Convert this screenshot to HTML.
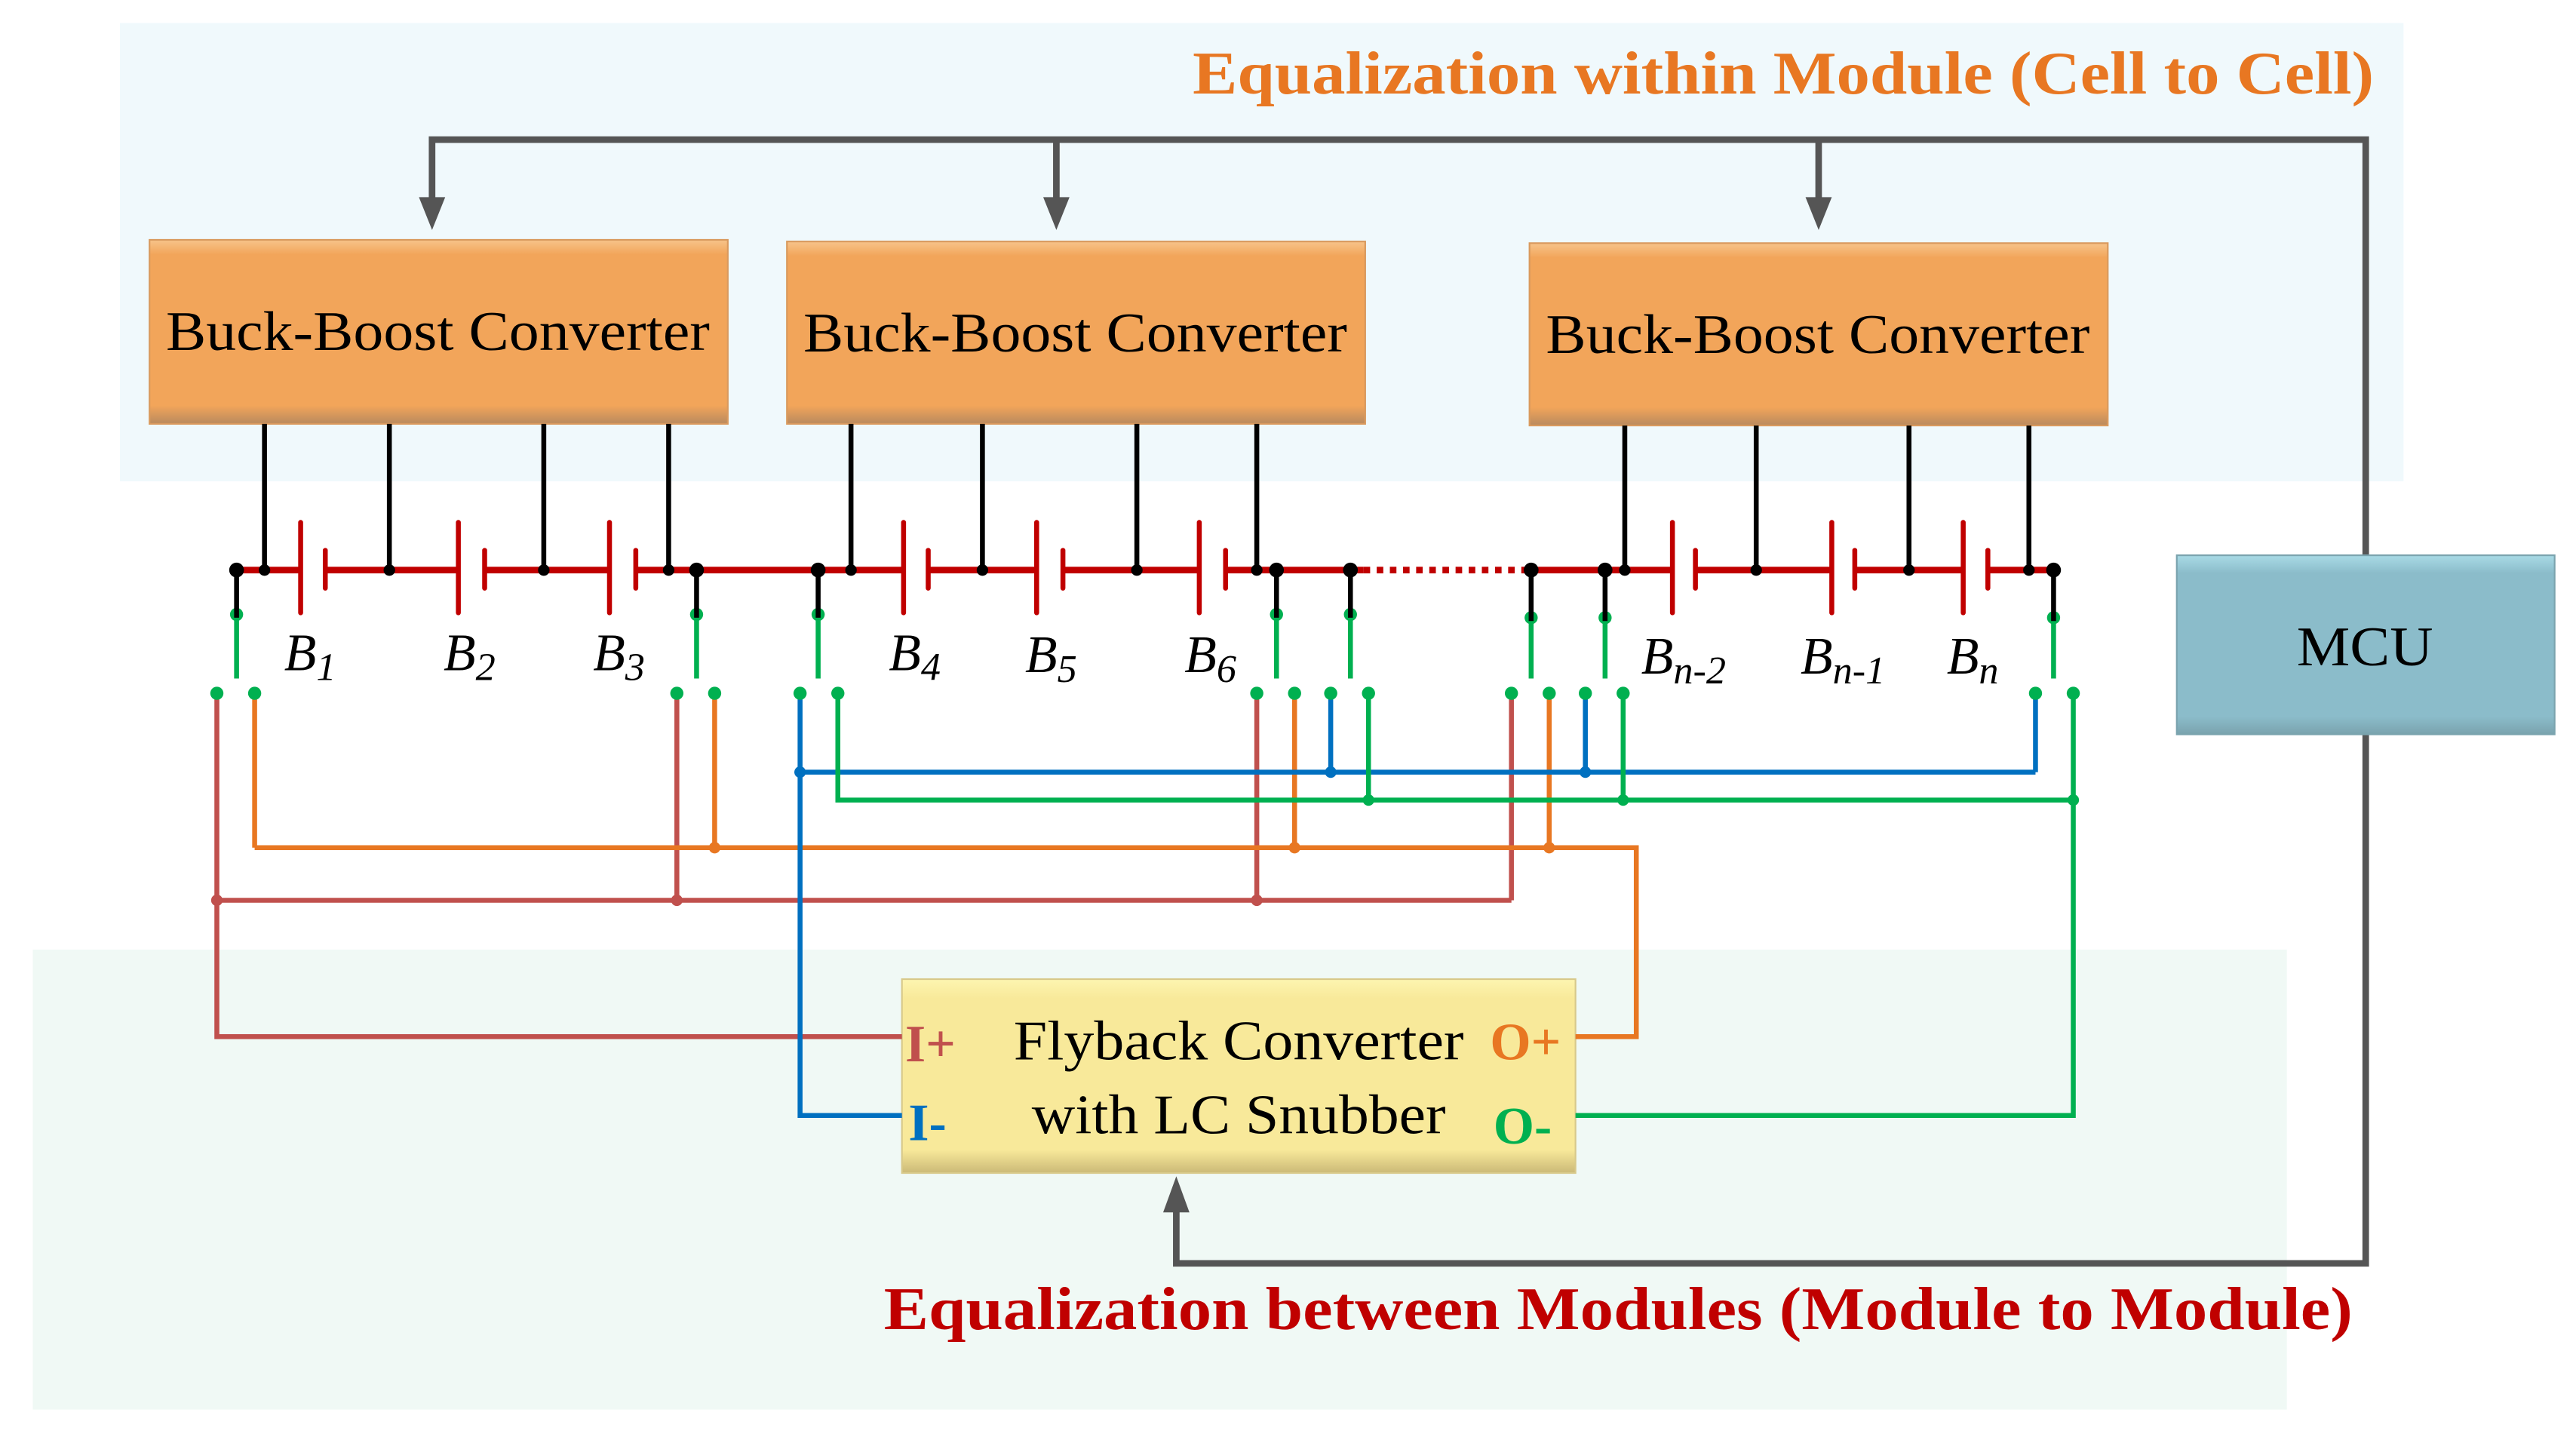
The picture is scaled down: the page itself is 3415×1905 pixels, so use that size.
<!DOCTYPE html>
<html><head><meta charset="utf-8"><style>
html,body{margin:0;padding:0;background:#fff;}
svg{display:block;}
text{font-family:"Liberation Serif",serif;}
</style></head><body>
<svg width="3415" height="1905" viewBox="0 0 1568 874.7" preserveAspectRatio="none" xmlns="http://www.w3.org/2000/svg">
<defs>
<linearGradient id="og" x1="0" y1="0" x2="0" y2="1"><stop offset="0" stop-color="#f7c48a"/><stop offset="0.08" stop-color="#f2a55a"/><stop offset="0.9" stop-color="#f2a55a"/><stop offset="1" stop-color="#b98a5e"/></linearGradient>
<linearGradient id="bg" x1="0" y1="0" x2="0" y2="1"><stop offset="0" stop-color="#a9dbe6"/><stop offset="0.1" stop-color="#8bbcca"/><stop offset="0.9" stop-color="#8bbcca"/><stop offset="1" stop-color="#7aa3ae"/></linearGradient>
<linearGradient id="yg" x1="0" y1="0" x2="0" y2="1"><stop offset="0" stop-color="#fdf5b0"/><stop offset="0.1" stop-color="#f8e99a"/><stop offset="0.88" stop-color="#f8e99a"/><stop offset="1" stop-color="#cbb977"/></linearGradient>
</defs>
<rect x="73" y="14" width="1390" height="279" fill="#f0f9fc"/>
<rect x="20" y="578" width="1372" height="280" fill="#f0f9f5"/>
<text x="726" y="57" textLength="719" lengthAdjust="spacingAndGlyphs" font-size="37" font-weight="bold" fill="#e87722">Equalization within Module (Cell to Cell)</text>
<text x="538" y="809" textLength="894" lengthAdjust="spacingAndGlyphs" font-size="37" font-weight="bold" fill="#c00000">Equalization between Modules (Module to Module)</text>

<g stroke="#555" stroke-width="4" fill="none">
<polyline points="1440,338 1440,85 263,85 263,125"/>
<line x1="643" y1="85" x2="643" y2="125"/>
<line x1="1107" y1="85" x2="1107" y2="125"/>
<polyline points="1440,447 1440,769 716,769 716,735"/>
</g>
<g fill="#555">
<polygon points="255,120 271,120 263,140"/>
<polygon points="635,120 651,120 643,140"/>
<polygon points="1099,120 1115,120 1107,140"/>
<polygon points="708,738 724,738 716,716"/>
</g>

<rect x="91" y="146" width="352" height="112" fill="url(#og)" stroke="#d99a5e" stroke-width="1"/>
<rect x="479" y="147" width="352" height="111" fill="url(#og)" stroke="#d99a5e" stroke-width="1"/>
<rect x="931" y="148" width="352" height="111" fill="url(#og)" stroke="#d99a5e" stroke-width="1"/>
<text x="101" y="213" textLength="331" lengthAdjust="spacingAndGlyphs" font-size="34">Buck-Boost Converter</text>
<text x="489" y="214" textLength="331" lengthAdjust="spacingAndGlyphs" font-size="34">Buck-Boost Converter</text>
<text x="941" y="215" textLength="331" lengthAdjust="spacingAndGlyphs" font-size="34">Buck-Boost Converter</text>
<rect x="1325" y="338" width="230" height="109" fill="url(#bg)" stroke="#7aa3ae" stroke-width="1"/>
<text x="1398" y="405" textLength="83" lengthAdjust="spacingAndGlyphs" font-size="34">MCU</text>
<rect x="549" y="596" width="410" height="118" fill="url(#yg)" stroke="#d8c98a" stroke-width="1"/>
<text x="617" y="645" textLength="274" lengthAdjust="spacingAndGlyphs" font-size="34">Flyback Converter</text>
<text x="628" y="690" textLength="252" lengthAdjust="spacingAndGlyphs" font-size="34">with LC Snubber</text>
<text x="551" y="646" font-size="32" font-weight="bold" fill="#c0504d">I+</text>
<text x="553" y="694" font-size="32" font-weight="bold" fill="#0070c0">I-</text>
<text x="907" y="645" font-size="32" font-weight="bold" fill="#e87722">O+</text>
<text x="909" y="696" font-size="32" font-weight="bold" fill="#00b050">O-</text>

<g stroke="#000" stroke-width="3">
<line x1="161" y1="258" x2="161" y2="347"/><line x1="237" y1="258" x2="237" y2="347"/>
<line x1="331" y1="258" x2="331" y2="347"/><line x1="407" y1="258" x2="407" y2="347"/>
<line x1="518" y1="258" x2="518" y2="347"/><line x1="598" y1="258" x2="598" y2="347"/>
<line x1="692" y1="258" x2="692" y2="347"/><line x1="765" y1="258" x2="765" y2="347"/>
<line x1="989" y1="259" x2="989" y2="347"/><line x1="1069" y1="259" x2="1069" y2="347"/>
<line x1="1162" y1="259" x2="1162" y2="347"/><line x1="1235" y1="259" x2="1235" y2="347"/>
</g>

<g stroke="#c00000" stroke-width="4" fill="none">
<line x1="144" y1="347" x2="183" y2="347"/><line x1="198" y1="347" x2="279" y2="347"/>
<line x1="295" y1="347" x2="371" y2="347"/><line x1="387" y1="347" x2="550" y2="347"/>
<line x1="565" y1="347" x2="631" y2="347"/><line x1="647" y1="347" x2="730" y2="347"/>
<line x1="746" y1="347" x2="830" y2="347"/>
<line x1="830" y1="347" x2="932" y2="347" stroke-dasharray="4,4"/>
<line x1="932" y1="347" x2="1018" y2="347"/><line x1="1032" y1="347" x2="1115" y2="347"/>
<line x1="1129" y1="347" x2="1195" y2="347"/><line x1="1210" y1="347" x2="1250" y2="347"/>
</g>
<g stroke="#c00000" stroke-width="3" stroke-linecap="round">
<line x1="183" y1="318" x2="183" y2="373"/><line x1="198" y1="335" x2="198" y2="358"/>
<line x1="279" y1="318" x2="279" y2="373"/><line x1="295" y1="335" x2="295" y2="358"/>
<line x1="371" y1="318" x2="371" y2="373"/><line x1="387" y1="335" x2="387" y2="358"/>
<line x1="550" y1="318" x2="550" y2="373"/><line x1="565" y1="335" x2="565" y2="358"/>
<line x1="631" y1="318" x2="631" y2="373"/><line x1="647" y1="335" x2="647" y2="358"/>
<line x1="730" y1="318" x2="730" y2="373"/><line x1="746" y1="335" x2="746" y2="358"/>
<line x1="1018" y1="318" x2="1018" y2="373"/><line x1="1032" y1="335" x2="1032" y2="358"/>
<line x1="1115" y1="318" x2="1115" y2="373"/><line x1="1129" y1="335" x2="1129" y2="358"/>
<line x1="1195" y1="318" x2="1195" y2="373"/><line x1="1210" y1="335" x2="1210" y2="358"/>
</g>
<g fill="#000">
<circle cx="161" cy="347" r="3.5"/><circle cx="237" cy="347" r="3.5"/><circle cx="331" cy="347" r="3.5"/><circle cx="407" cy="347" r="3.5"/>
<circle cx="518" cy="347" r="3.5"/><circle cx="598" cy="347" r="3.5"/><circle cx="692" cy="347" r="3.5"/><circle cx="765" cy="347" r="3.5"/>
<circle cx="989" cy="347" r="3.5"/><circle cx="1069" cy="347" r="3.5"/><circle cx="1162" cy="347" r="3.5"/><circle cx="1235" cy="347" r="3.5"/>
</g>

<g font-size="32" font-style="italic">
<text x="173" y="408">B<tspan font-size="24" dy="6">1</tspan></text>
<text x="270" y="408">B<tspan font-size="24" dy="6">2</tspan></text>
<text x="361" y="408">B<tspan font-size="24" dy="6">3</tspan></text>
<text x="541" y="408">B<tspan font-size="24" dy="6">4</tspan></text>
<text x="624" y="409">B<tspan font-size="24" dy="6">5</tspan></text>
<text x="721" y="409">B<tspan font-size="24" dy="6">6</tspan></text>
<text x="999" y="410">B<tspan font-size="24" dy="6">n-2</tspan></text>
<text x="1096" y="410">B<tspan font-size="24" dy="6">n-1</tspan></text>
<text x="1185" y="410">B<tspan font-size="24" dy="6">n</tspan></text>
</g>

<g>
<g stroke="#00b050" stroke-width="3">
<line x1="144" y1="374" x2="144" y2="413"/><line x1="424" y1="374" x2="424" y2="413"/>
<line x1="498" y1="374" x2="498" y2="413"/><line x1="777" y1="374" x2="777" y2="413"/>
<line x1="822" y1="374" x2="822" y2="413"/><line x1="932" y1="376" x2="932" y2="413"/>
<line x1="977" y1="376" x2="977" y2="413"/><line x1="1250" y1="376" x2="1250" y2="413"/>
</g>
<g fill="#00b050">
<circle cx="144" cy="374" r="4"/><circle cx="424" cy="374" r="4"/><circle cx="498" cy="374" r="4"/><circle cx="777" cy="374" r="4"/>
<circle cx="822" cy="374" r="4"/><circle cx="932" cy="376" r="4"/><circle cx="977" cy="376" r="4"/><circle cx="1250" cy="376" r="4"/>
</g>
<g stroke="#000" stroke-width="3">
<line x1="144" y1="347" x2="144" y2="376"/><line x1="424" y1="347" x2="424" y2="376"/>
<line x1="498" y1="347" x2="498" y2="376"/><line x1="777" y1="347" x2="777" y2="376"/>
<line x1="822" y1="347" x2="822" y2="376"/><line x1="932" y1="347" x2="932" y2="378"/>
<line x1="977" y1="347" x2="977" y2="378"/><line x1="1250" y1="347" x2="1250" y2="378"/>
</g>
<g fill="#000">
<circle cx="144" cy="347" r="4.5"/><circle cx="424" cy="347" r="4.5"/><circle cx="498" cy="347" r="4.5"/><circle cx="777" cy="347" r="4.5"/>
<circle cx="822" cy="347" r="4.5"/><circle cx="932" cy="347" r="4.5"/><circle cx="977" cy="347" r="4.5"/><circle cx="1250" cy="347" r="4.5"/>
</g>
</g>

<g fill="none" stroke-width="3">
<g stroke="#c0504d">
<polyline points="132,422 132,631 549,631"/>
<line x1="132" y1="548" x2="920" y2="548"/>
<line x1="412" y1="422" x2="412" y2="548"/>
<line x1="765" y1="422" x2="765" y2="548"/>
<line x1="920" y1="422" x2="920" y2="548"/>
</g>
<g stroke="#e87722">
<line x1="155" y1="422" x2="155" y2="516"/>
<line x1="435" y1="422" x2="435" y2="516"/>
<line x1="788" y1="422" x2="788" y2="516"/>
<line x1="943" y1="422" x2="943" y2="516"/>
<polyline points="155,516 996,516 996,631 959,631"/>
</g>
<g stroke="#0070c0">
<polyline points="487,422 487,679 549,679"/>
<line x1="487" y1="470" x2="1239" y2="470"/>
<line x1="810" y1="422" x2="810" y2="470"/>
<line x1="965" y1="422" x2="965" y2="470"/>
<line x1="1239" y1="422" x2="1239" y2="470"/>
</g>
<g stroke="#00b050">
<polyline points="510,422 510,487 1262,487"/>
<line x1="833" y1="422" x2="833" y2="487"/>
<line x1="988" y1="422" x2="988" y2="487"/>
<polyline points="1262,422 1262,679 959,679"/>
</g>
</g>
<g>
<circle cx="132" cy="548" r="3.5" fill="#c0504d"/><circle cx="412" cy="548" r="3.5" fill="#c0504d"/><circle cx="765" cy="548" r="3.5" fill="#c0504d"/>
<circle cx="435" cy="516" r="3.5" fill="#e87722"/><circle cx="788" cy="516" r="3.5" fill="#e87722"/><circle cx="943" cy="516" r="3.5" fill="#e87722"/>
<circle cx="487" cy="470" r="3.5" fill="#0070c0"/><circle cx="810" cy="470" r="3.5" fill="#0070c0"/><circle cx="965" cy="470" r="3.5" fill="#0070c0"/>
<circle cx="833" cy="487" r="3.5" fill="#00b050"/><circle cx="988" cy="487" r="3.5" fill="#00b050"/><circle cx="1262" cy="487" r="3.5" fill="#00b050"/>
</g>
<g fill="#00b050">
<circle cx="132" cy="422" r="4"/><circle cx="155" cy="422" r="4"/><circle cx="412" cy="422" r="4"/><circle cx="435" cy="422" r="4"/>
<circle cx="487" cy="422" r="4"/><circle cx="510" cy="422" r="4"/><circle cx="765" cy="422" r="4"/><circle cx="788" cy="422" r="4"/>
<circle cx="810" cy="422" r="4"/><circle cx="833" cy="422" r="4"/><circle cx="920" cy="422" r="4"/><circle cx="943" cy="422" r="4"/>
<circle cx="965" cy="422" r="4"/><circle cx="988" cy="422" r="4"/><circle cx="1239" cy="422" r="4"/><circle cx="1262" cy="422" r="4"/>
</g>
</svg>
</body></html>
